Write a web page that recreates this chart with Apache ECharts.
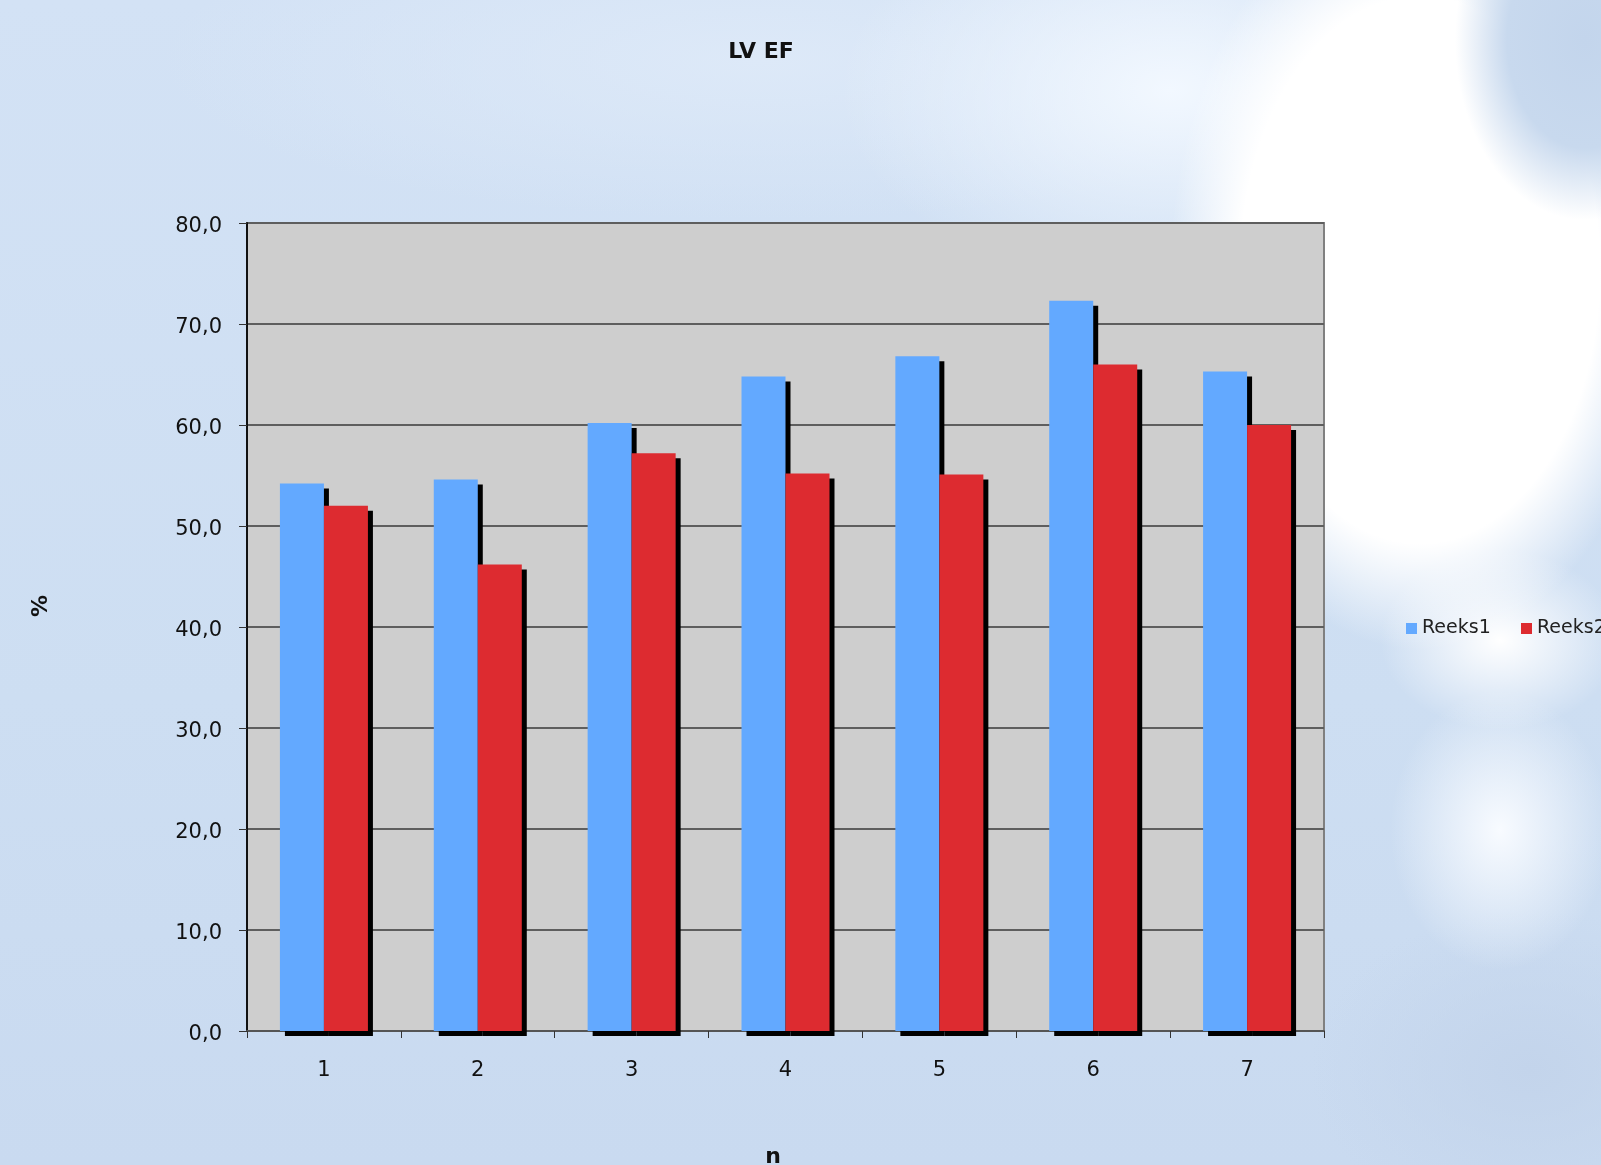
<!DOCTYPE html>
<html>
<head>
<meta charset="utf-8">
<title>LV EF</title>
<script src="https://cdn.jsdelivr.net/npm/echarts@6/dist/echarts.min.js"></script>
<style>
  html, body { margin: 0; padding: 0; }
  body {
    width: 1601px; height: 1165px; overflow: hidden;
    background-color: #cfdff2;
    background-image:
      radial-gradient(ellipse 130px 180px at 1585px 40px, #c3d5ec 0%, #c8d9ee 60%, rgba(200,217,238,0) 100%),
      radial-gradient(ellipse 250px 380px at 1420px 270px, #ffffff 0%, #ffffff 72%, rgba(255,255,255,0) 100%),
      radial-gradient(ellipse 120px 90px at 1500px 640px, #ffffff 0%, rgba(255,255,255,0) 100%),
      radial-gradient(ellipse 110px 140px at 1500px 830px, #f8fbff 0%, rgba(248,251,255,0) 100%),
      radial-gradient(ellipse 220px 160px at 1530px 1070px, #c3d4eb 0%, rgba(195,212,235,0) 100%),
      radial-gradient(ellipse 330px 200px at 1170px 90px, #f2f8ff 0%, rgba(242,248,255,0) 100%),
      radial-gradient(ellipse 600px 160px at 760px 60px, #dde9f8 0%, rgba(221,233,248,0) 100%),
      linear-gradient(180deg, #d3e2f5 0%, #cddef2 60%, #c9daf0 100%);
  }
  #chart { width: 1601px; height: 1165px; }
</style>
</head>
<body>
<div id="chart"></div>
<script>
  // Categories along the x axis (measurement index n)
  const categories = ['1', '2', '3', '4', '5', '6', '7'];
  // LV ejection fraction (%) per index, two series
  const reeks1 = [54.2, 54.6, 60.2, 64.8, 66.8, 72.3, 65.3];
  const reeks2 = [52.0, 46.2, 57.2, 55.2, 55.1, 66.0, 60.0];
  // Value axis range
  const yMin = 0;
  const yMax = 80;
  const yStep = 10;

  const FONT = 'DejaVu Sans, Verdana, sans-serif';

  const chart = echarts.init(document.getElementById('chart'), null, { renderer: 'canvas' });

  const barShadow = {
    shadowColor: '#000000',
    shadowBlur: 0,
    shadowOffsetX: 5,
    shadowOffsetY: 5
  };

  const legendText = { fontFamily: FONT, fontSize: 19, color: '#222222' };

  chart.setOption({
    backgroundColor: 'transparent',
    animation: false,
    title: {
      text: 'LV EF',
      left: 756,
      top: 36,
      textAlign: 'center',
      textStyle: { fontFamily: FONT, fontSize: 22, fontWeight: 'bold', color: '#111111' }
    },
    // one legend block per series so the row is not wrapped at the page edge
    legend: [
      {
        data: ['Reeks1'],
        left: 1401,
        top: 614,
        icon: 'rect',
        itemWidth: 11,
        itemHeight: 11,
        textStyle: legendText
      },
      {
        data: ['Reeks2'],
        left: 1516,
        top: 614,
        icon: 'rect',
        itemWidth: 11,
        itemHeight: 11,
        textStyle: legendText
      }
    ],
    grid: {
      left: 247,
      right: 277,
      top: 223,
      bottom: 134,
      show: true,
      backgroundColor: '#cecece',
      borderColor: '#808080',
      borderWidth: 2
    },
    xAxis: {
      type: 'category',
      data: categories,
      boundaryGap: true,
      axisLine: { show: true, lineStyle: { color: '#555555', width: 2 } },
      axisTick: { show: true, length: 7, lineStyle: { color: '#333333', width: 1 } },
      axisLabel: { margin: 29, fontFamily: FONT, fontSize: 21, color: '#111111' },
      splitLine: { show: false }
    },
    yAxis: {
      type: 'value',
      min: yMin,
      max: yMax,
      interval: yStep,
      axisLine: { show: true, lineStyle: { color: '#111111', width: 2 } },
      axisTick: { show: true, length: 8, lineStyle: { color: '#333333', width: 1 } },
      axisLabel: {
        margin: 25,
        formatter: v => '{v|' + v.toFixed(1).replace('.', ',') + '}',
        rich: {
          v: {
            fontFamily: FONT,
            fontSize: 21,
            color: '#111111',
            padding: [8, 0, 0, 0]
          }
        }
      },
      splitLine: { show: true, lineStyle: { color: '#5e5e5e', width: 2 } }
    },
    series: [
      {
        name: 'Reeks1',
        type: 'bar',
        data: reeks1,
        barWidth: 44,
        barGap: '0%',
        itemStyle: Object.assign({ color: '#63a9ff' }, barShadow)
      },
      {
        name: 'Reeks2',
        type: 'bar',
        data: reeks2,
        barWidth: 44,
        barGap: '0%',
        itemStyle: Object.assign({ color: '#dd2b30' }, barShadow)
      }
    ],
    graphic: [
      {
        type: 'text',
        x: 41,
        y: 606,
        rotation: Math.PI / 2,
        style: {
          text: '%',
          fontFamily: FONT,
          fontSize: 22,
          fontWeight: 'bold',
          fill: '#111111',
          align: 'center',
          verticalAlign: 'middle'
        }
      },
      {
        type: 'text',
        x: 773,
        y: 1146,
        style: {
          text: 'n',
          fontFamily: FONT,
          fontSize: 22,
          fontWeight: 'bold',
          fill: '#111111',
          align: 'center',
          verticalAlign: 'top'
        }
      }
    ]
  });
</script>
</body>
</html>
